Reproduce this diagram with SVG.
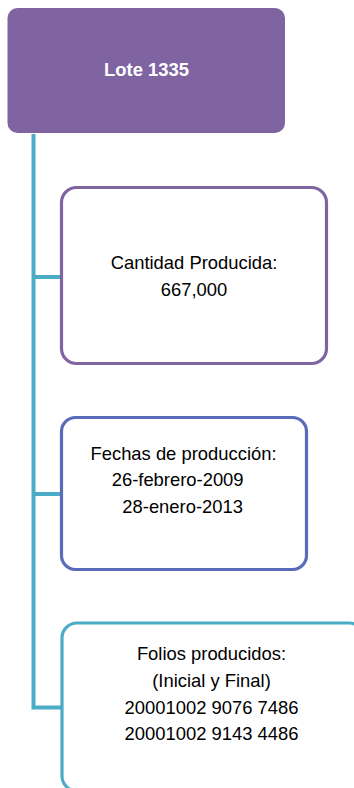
<svg xmlns="http://www.w3.org/2000/svg" width="354" height="788" viewBox="0 0 354 788">
<style>
.t{font-family:"Liberation Sans",Arial,sans-serif;font-size:18.4px;fill:#000;}
.c{text-anchor:middle;}
.box{fill:#fff;stroke-width:3.2;}
.conn{stroke:#4BACC6;stroke-width:4;fill:none;}
</style>
<rect width="354" height="788" fill="#fff"/>
<g id="connectors">
<path class="conn" d="M33.5 134 V707.5 H62"/>
<path class="conn" d="M33.5 277 H62"/>
<path class="conn" d="M33.5 494 H62"/>
</g>
<g id="lote">
<rect x="7.5" y="8" width="277.5" height="125" rx="10" fill="#8064A2"/>
<text class="t c" x="146.5" y="76" font-weight="bold" fill="#fff" style="fill:#fff">Lote 1335</text>
</g>
<g id="cantidad">
<rect class="box" x="61.5" y="187.5" width="265" height="176" rx="15" stroke="#8064A2"/>
<text class="t c" x="194" y="269">Cantidad Producida:</text>
<text class="t c" x="194" y="296">667,000</text>
</g>
<g id="fechas">
<rect class="box" x="61.5" y="417.5" width="245" height="152" rx="14" stroke="#5A6BBA"/>
<text class="t c" x="183.5" y="459.5">Fechas de producción:</text>
<text class="t" x="111.7" y="486">26-febrero-2009</text>
<text class="t" x="122.3" y="512.5">28-enero-2013</text>
</g>
<g id="folios">
<rect class="box" x="62" y="623" width="302" height="168" rx="15" stroke="#4BACC6"/>
<text class="t c" x="211.5" y="660">Folios producidos:</text>
<text class="t c" x="211.5" y="687">(Inicial y Final)</text>
<text class="t c" x="211.5" y="713.5">20001002 9076 7486</text>
<text class="t c" x="211.5" y="740">20001002 9143 4486</text>
</g>
</svg>
